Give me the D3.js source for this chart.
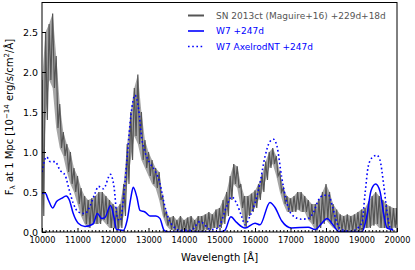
<!DOCTYPE html>
<html><head><meta charset="utf-8">
<script src="https://cdn.jsdelivr.net/npm/d3@7"></script>
<style>body{margin:0;background:#fff}svg{display:block}text{font-family:"DejaVu Sans",sans-serif}</style>
</head><body><svg id="c" width="415" height="270"></svg>
<script>
// Observed spectrum SN 2013ct: envelope (low/high) per 100 Å bin, 10000..20000
const obsWave = d3.range(10000, 20001, 100);
const obsLo = [0.2,1.4,1.9,1.8,1.3,1.05,0.95,0.75,0.6,0.5,
 0.35,0.2,0.1,0.05,0.1,0.1,0.1,0.15,0.1,0.05,
 0.05,0.03,0.05,0.2,0.6,0.9,1.2,1.1,0.9,0.8,
 0.7,0.6,0.55,0.4,0.2,0.08,0.03,0.02,0.02,0.0,
 0.02,0.0,0.02,0.0,0.02,0.0,0.03,0.02,0.05,0.05,
 0.05,0.1,0.2,0.4,0.6,0.55,0.3,0.05,0.2,0.25,
 0.3,0.4,0.5,0.65,0.8,0.85,0.7,0.5,0.35,0.25,
 0.25,0.25,0.28,0.25,0.25,0.15,0.1,0.02,0.05,0.1,
 0.15,0.1,0.05,0.03,0.02,0.0,0.02,0.0,0.02,0.0,
 0.03,0.05,0.05,0.08,0.1,0.05,0.05,0.05,0.03,0.05,0.1];
const obsHi = [1.9,2.5,2.6,2.73,2.2,1.6,1.25,1.1,1.0,0.8,
 0.7,0.55,0.45,0.4,0.42,0.45,0.5,0.5,0.45,0.4,
 0.35,0.3,0.35,0.6,1.1,1.5,1.8,1.97,1.5,1.15,
 1.0,0.9,0.8,0.75,0.45,0.25,0.18,0.2,0.15,0.2,
 0.15,0.18,0.2,0.15,0.2,0.2,0.22,0.25,0.22,0.28,
 0.3,0.4,0.5,0.7,0.85,0.82,0.6,0.45,0.45,0.48,
 0.52,0.6,0.72,0.88,1.0,1.05,0.95,0.75,0.55,0.45,
 0.42,0.45,0.5,0.5,0.45,0.4,0.35,0.35,0.4,0.5,
 0.6,0.5,0.35,0.28,0.22,0.2,0.22,0.2,0.22,0.25,
 0.28,0.3,0.38,0.45,0.5,0.45,0.4,0.35,0.32,0.3,0.3];

// W7 +247d model
const w7Wave = [10000,10085,10180,10300,10410,10550,10680,10770,10880,11020,11210,11440,11560,11680,11770,11930,12030,12100,12290,12400,12500,12570,12670,12760,12900,13040,13210,13320,13440,13550,14000,14500,15000,15150,15320,15480,15720,16000,16140,16420,16560,16750,17030,17500,17690,17880,18030,18210,18350,18600,19010,19150,19270,19400,19520,19620,19720,19890];
const w7Flux = [0.48,0.49,0.4,0.3,0.38,0.42,0.45,0.4,0.23,0.11,0.07,0.1,0.23,0.17,0.18,0.33,0.18,0.03,0.02,0.15,0.42,0.56,0.44,0.27,0.25,0.2,0.2,0.17,0.02,0.0,0.0,0.0,0.0,0.02,0.19,0.12,0.05,0.11,0.09,0.37,0.31,0.14,0.05,0.06,0.03,0.11,0.17,0.08,0.01,0.0,0.0,0.2,0.52,0.6,0.51,0.24,0.05,0.03];

// W7 AxelrodNT +247d model
const axWave = [10000,10130,10230,10370,10510,10650,10770,10880,11020,11210,11350,11490,11590,11730,11930,12030,12120,12200,12290,12400,12500,12620,12720,12810,12900,13040,13180,13320,13440,13560,13700,13890,14200,14450,14760,14960,15200,15340,15480,15620,15720,15860,16000,16140,16280,16420,16520,16620,16750,16900,17030,17310,17500,17640,17790,17930,18070,18180,18310,18440,18700,19010,19100,19190,19300,19430,19520,19620,19720,19810,19900];
const axFlux = [0.75,0.94,0.88,0.88,0.77,0.71,0.52,0.36,0.25,0.23,0.32,0.48,0.57,0.54,0.72,0.56,0.18,0.14,0.4,0.94,1.44,1.71,1.54,1.17,1.0,0.86,0.77,0.61,0.36,0.17,0.07,0.02,0.02,0.13,0.03,0.05,0.32,0.44,0.36,0.2,0.09,0.2,0.36,0.61,0.94,1.13,1.16,1.07,0.69,0.36,0.22,0.16,0.17,0.24,0.4,0.46,0.46,0.32,0.11,0.03,0.01,0.11,0.48,0.82,0.93,0.96,0.9,0.61,0.24,0.05,0.02];

const xTicks = d3.range(10000, 20001, 1000);
const yTicks = [0, 0.5, 1.0, 1.5, 2.0, 2.5];
const legendLabels = ["SN 2013ct (Maguire+16) +229d+18d", "W7 +247d", "W7 AxelrodNT +247d"];

const svg = d3.select("#c");
const L = 42, R = 397, T = 2.5, B = 232;
const x = d3.scaleLinear().domain([10000, 20000]).range([L, R]);
const y = d3.scaleLinear().domain([0, 229.5/80]).range([B, T]);

svg.append("defs").append("clipPath").attr("id","clip")
  .append("rect").attr("x",L).attr("y",T).attr("width",R-L).attr("height",B-T);
const g = svg.append("g").attr("clip-path","url(#clip)");

// observed: faint band between bin low and high, plus zigzag stroke
g.append("path").datum(obsWave.map((w,i)=>[w,obsLo[i],obsHi[i]]))
  .attr("d", d3.area().x(d=>x(d[0])).y0(d=>y(d[1])).y1(d=>y(d[2])))
  .attr("fill","#5c5c5c").attr("fill-opacity",0.55).attr("stroke","none");
const obsPts = [];
obsWave.forEach((w,i)=>{ obsPts.push([w, obsHi[i]]); obsPts.push([w+50, obsLo[i]]); });
g.append("path").datum(obsPts)
  .attr("d", d3.line().x(d=>x(d[0])).y(d=>y(d[1])))
  .attr("fill","none").attr("stroke","#555").attr("stroke-width",1.2);

const mline = d3.line().x(d=>x(d[0])).y(d=>y(d[1])).curve(d3.curveMonotoneX);
g.append("path").datum(w7Wave.map((w,i)=>[w,w7Flux[i]]))
  .attr("d", mline).attr("fill","none").attr("stroke","#0000ff").attr("stroke-width",1.5);
g.append("path").datum(axWave.map((w,i)=>[w,axFlux[i]]))
  .attr("d", mline).attr("fill","none").attr("stroke","#0000ff").attr("stroke-width",1.6)
  .attr("stroke-dasharray","1.6,2.6");

// axes
const xAxis = d3.axisBottom(x).tickValues(xTicks).tickSize(-4).tickPadding(5).tickFormat(d3.format("d"));
const gx = svg.append("g").attr("transform",`translate(0,${B})`).call(xAxis);
gx.select(".domain").remove();
gx.selectAll("text").attr("font-size","8.2px").attr("fill","#000").attr("font-family","DejaVu Sans");
const xMinor = d3.axisBottom(x).tickValues(d3.range(10000,20001,100).filter(v=>v%1000)).tickSize(-2).tickFormat("");
const gxm = svg.append("g").attr("transform",`translate(0,${B})`).call(xMinor);
gxm.select(".domain").remove();

const yAxis = d3.axisLeft(y).tickValues(yTicks).tickSize(-4).tickPadding(4).tickFormat(d3.format(".1f"));
const gy = svg.append("g").attr("transform",`translate(${L},0)`).call(yAxis);
gy.select(".domain").remove();
gy.selectAll("text").attr("font-size","9.5px").attr("fill","#000").attr("font-family","DejaVu Sans");

svg.append("rect").attr("x",L).attr("y",T).attr("width",R-L).attr("height",B-T)
  .attr("fill","none").attr("stroke","#000").attr("stroke-width",1);

// labels
svg.append("text").attr("x",(L+R)/2).attr("y",261).attr("text-anchor","middle")
  .attr("font-size","10px").text("Wavelength [Å]");
const yl = svg.append("text").attr("transform","translate(13,117) rotate(-90)")
  .attr("text-anchor","middle").attr("font-size","10px");
yl.append("tspan").text("F");
yl.append("tspan").attr("font-size","7px").attr("dy","2").text("λ");
yl.append("tspan").attr("dy","-2").text(" at 1 Mpc [10");
yl.append("tspan").attr("font-size","7px").attr("dy","-4").text("−14");
yl.append("tspan").attr("dy","4").text(" erg/s/cm");
yl.append("tspan").attr("font-size","7px").attr("dy","-4").text("2");
yl.append("tspan").attr("dy","4").text("/Å]");

// legend
const lg = svg.append("g");
const lgColors = ["#555","#0000ff","#0000ff"];
const lgDash = [null,null,"1.6,2.6"];
legendLabels.forEach((t,i)=>{
  const yy = 15.5 + i*15.5;
  lg.append("line").attr("x1",188).attr("x2",204).attr("y1",yy).attr("y2",yy)
    .attr("stroke",lgColors[i]).attr("stroke-width",i===0?2:1.6)
    .attr("stroke-dasharray",lgDash[i]);
  lg.append("text").attr("x",216).attr("y",yy+3.2).attr("font-size","9px")
    .attr("fill",lgColors[i]).text(t);
});
</script></body></html>
